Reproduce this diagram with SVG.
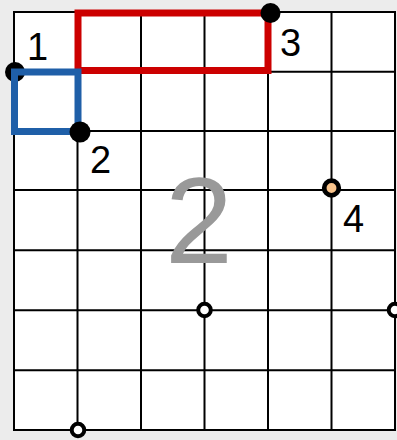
<svg xmlns="http://www.w3.org/2000/svg" width="397" height="440" viewBox="0 0 397 440">
<style>
.g{stroke:#000;stroke-width:2;fill:none}
.lbl{font-family:"Liberation Sans",Arial,sans-serif;font-size:38px;fill:#000}
.dot{fill:#000}
.hollow{fill:#fff;stroke:#000;stroke-width:4}
</style>
<rect x="0" y="0" width="397" height="440" fill="#ececec"/>
<g id="grid">
<rect x="14" y="12" width="381" height="418" fill="#fff"/>
<rect x="14" y="12" width="381" height="418" class="g"/>
<path class="g" d="M77.5 12V430M141 12V430M204.5 12V430M268 12V430M331.5 12V430M14 71.7H395M14 131H395M14 190H395M14 250.3H395M14 310.2H395M14 370.2H395"/>
</g>
<text x="199" y="263" text-anchor="middle" style="font-family:'Liberation Sans',Arial,sans-serif;font-size:122px;fill:#999">2</text>
<g id="p1"><circle class="dot" cx="15" cy="72" r="10"/><text class="lbl" x="27" y="60">1</text></g>
<g id="red-rect"><rect x="78" y="13" width="190" height="57.5" fill="none" stroke="#cc0000" stroke-width="7"/></g>
<g id="blue-rect"><rect x="14.5" y="72" width="63.5" height="59.5" fill="none" stroke="#1f5fa8" stroke-width="7"/></g>
<g id="p2"><circle class="dot" cx="80" cy="132" r="10.5"/><text class="lbl" x="90" y="173">2</text></g>
<g id="p3"><circle class="dot" cx="270.5" cy="13" r="10"/><text class="lbl" x="280" y="56">3</text></g>
<g id="p4"><circle cx="331.5" cy="188" r="7.3" fill="#f9c48c" stroke="#000" stroke-width="4.7"/><text class="lbl" x="343" y="232">4</text></g>
<g id="h1"><circle class="hollow" cx="78" cy="430" r="6.3"/></g>
<g id="h2"><circle class="hollow" cx="204.5" cy="310" r="6.3"/></g>
<g id="h3"><circle class="hollow" cx="395" cy="310" r="6.3"/></g>
</svg>
